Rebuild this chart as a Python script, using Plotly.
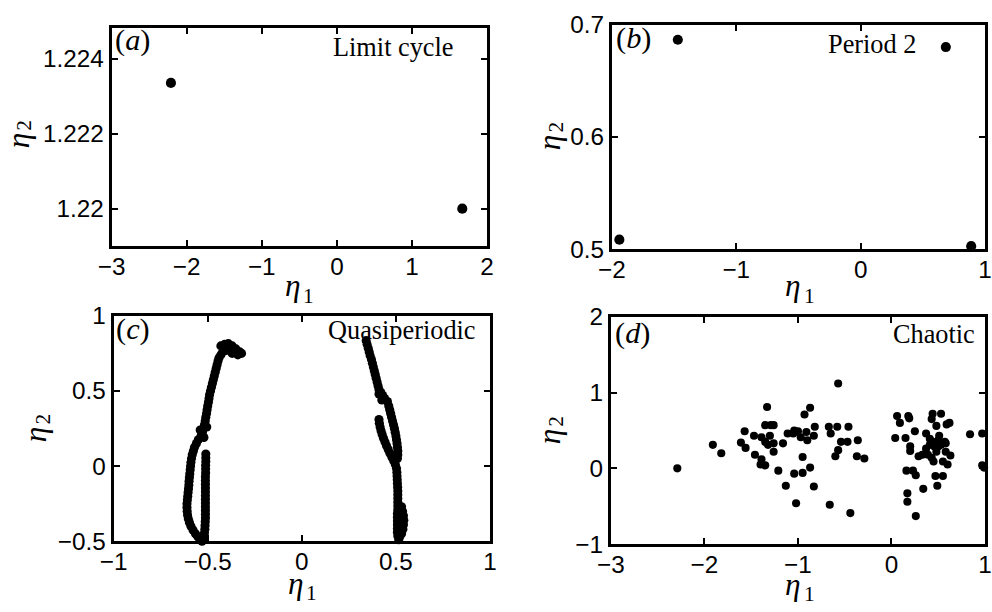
import plotly.graph_objects as go

# ---------------- data ----------------
# (a) Limit cycle
a_x = [-2.21, 1.67]
a_y = [1.22335, 1.2200]
# (b) Period 2
b_x = [-1.47, 0.685, -1.94, 0.889]
b_y = [0.6865, 0.680, 0.5084, 0.5026]
# (c) Quasiperiodic - left curve
c_left_x = [-0.43, -0.41, -0.39, -0.37, -0.35, -0.33, -0.32, -0.34, -0.37, -0.40, -0.42, -0.43, -0.40, -0.44, -0.36,
            -0.445, -0.45, -0.455, -0.46, -0.465, -0.47, -0.475, -0.48, -0.485, -0.49, -0.493, -0.496,
            -0.50, -0.503, -0.506, -0.51, -0.513, -0.517, -0.522, -0.528, -0.535, -0.505, -0.54, -0.52,
            -0.55, -0.56, -0.57, -0.576, -0.582, -0.586, -0.589, -0.591, -0.593, -0.595, -0.597, -0.599,
            -0.60, -0.602, -0.604, -0.606, -0.608, -0.61, -0.61, -0.609, -0.607, -0.603, -0.597, -0.589,
            -0.578, -0.565, -0.552, -0.54, -0.53,
            -0.51, -0.51, -0.51, -0.511, -0.511, -0.511, -0.512, -0.512, -0.512, -0.512, -0.512, -0.512,
            -0.512, -0.512, -0.512, -0.512, -0.512, -0.512, -0.513, -0.514, -0.515, -0.517, -0.52, -0.523]
c_left_y = [0.80, 0.81, 0.815, 0.80, 0.78, 0.76, 0.75, 0.74, 0.75, 0.77, 0.76, 0.74, 0.79, 0.72, 0.765,
            0.70, 0.675, 0.65, 0.625, 0.60, 0.575, 0.55, 0.525, 0.50, 0.475, 0.45, 0.425,
            0.40, 0.375, 0.35, 0.325, 0.30, 0.275, 0.25, 0.225, 0.20, 0.26, 0.24, 0.19,
            0.175, 0.15, 0.125, 0.10, 0.075, 0.05, 0.025, 0.0, -0.025, -0.05, -0.075, -0.10,
            -0.125, -0.15, -0.175, -0.20, -0.225, -0.25, -0.275, -0.30, -0.325, -0.35, -0.375, -0.40,
            -0.425, -0.45, -0.47, -0.49, -0.50,
            0.08, 0.055, 0.03, 0.005, -0.02, -0.045, -0.07, -0.095, -0.12, -0.145, -0.17, -0.195,
            -0.22, -0.245, -0.27, -0.295, -0.32, -0.345, -0.37, -0.395, -0.42, -0.445, -0.47, -0.49]
# (c) Quasiperiodic - right curve
c_right_x = [0.342, 0.347, 0.353, 0.358, 0.363, 0.37, 0.375, 0.38, 0.385, 0.39, 0.395, 0.40, 0.405, 0.41,
             0.42, 0.43, 0.44, 0.455, 0.41, 0.425,
             0.462, 0.467, 0.472, 0.477, 0.482, 0.487, 0.492, 0.496, 0.50, 0.503, 0.506, 0.508, 0.51, 0.51, 0.508,
             0.41, 0.412, 0.416, 0.421, 0.427, 0.434, 0.442, 0.45, 0.459, 0.468, 0.478, 0.488, 0.497,
             0.503, 0.505, 0.506, 0.507, 0.508, 0.509, 0.51, 0.51, 0.51, 0.51, 0.51, 0.53, 0.51, 0.535,
             0.508, 0.54, 0.508, 0.542, 0.508, 0.54, 0.508, 0.537, 0.508, 0.53, 0.508, 0.52, 0.51, 0.515,
             0.525, 0.525]
c_right_y = [0.835, 0.81, 0.785, 0.76, 0.735, 0.71, 0.685, 0.66, 0.635, 0.61, 0.585, 0.56, 0.535, 0.51,
             0.49, 0.47, 0.45, 0.43, 0.48, 0.44,
             0.40, 0.375, 0.35, 0.325, 0.30, 0.275, 0.25, 0.225, 0.20, 0.175, 0.15, 0.125, 0.10, 0.075, 0.05,
             0.31, 0.285, 0.26, 0.235, 0.21, 0.185, 0.16, 0.135, 0.11, 0.085, 0.06, 0.035, 0.01,
             -0.015, -0.04, -0.065, -0.09, -0.115, -0.14, -0.165, -0.19, -0.215, -0.24, -0.265, -0.27, -0.29, -0.30,
             -0.315, -0.33, -0.34, -0.36, -0.365, -0.39, -0.39, -0.42, -0.415, -0.45, -0.44, -0.47, -0.465, -0.49,
             -0.35, -0.41]
# (d) Chaotic
d_x = [-2.29, -1.91, -1.82, -1.61, -1.57, -1.56, -1.47, -1.46, -1.39, -1.40, -1.35,
       -1.35, -1.33, -1.39, -1.35, -1.30, -1.29, -1.26, -1.32, -1.26, -1.26, -1.21,
       -1.16, -1.13, -1.11, -1.04, -1.04, -1.02, -1.00, -0.97, -0.95, -0.95, -0.93,
       -0.87, -0.87, -0.83, -0.82, -0.83, -0.90, -0.91, -1.05, -0.67, -0.65, -0.58,
       -0.57, -0.66, -0.60, -0.57, -0.54, -0.47, -0.46, -0.44, -0.37, -0.36, -0.29,
       0.04, 0.06, 0.09, 0.18, 0.19, 0.15, 0.16, 0.17, 0.17, 0.20, 0.20, 0.23, 0.26,
       0.25, 0.26, 0.29, 0.33, 0.34, 0.37, 0.39, 0.41, 0.41, 0.43, 0.44, 0.46, 0.47,
       0.48, 0.48, 0.50, 0.51, 0.53, 0.55, 0.49, 0.53, 0.55, 0.57, 0.58, 0.60, 0.59,
       0.62, 0.63, 0.58, 0.44, 0.50, 0.37, 0.43, 0.45, 0.84, 0.97, 0.97, 0.99]
d_y = [0.00, 0.31, 0.20, 0.34, 0.49, 0.27, 0.43, 0.18, 0.12, 0.05, 0.04,
       0.57, 0.81, 0.41, 0.35, 0.43, 0.57, 0.57, 0.31, 0.33, 0.22, -0.03,
       0.33, -0.23, 0.46, 0.50, -0.07, -0.46, 0.49, 0.41, 0.15, -0.06, 0.71,
       0.80, 0.01, -0.24, 0.55, 0.43, 0.37, 0.48, 0.46, 0.55, 0.46, 0.55,
       1.12, -0.48, 0.16, 0.24, 0.35, 0.35, 0.55, -0.59, 0.16, 0.37, 0.13,
       0.40, 0.69, 0.60, 0.69, 0.66, 0.40, -0.03, -0.33, -0.44, 0.29, 0.23, -0.03, -0.09,
       0.49, -0.63, 0.16, 0.18, -0.27, 0.46, 0.18, 0.31, 0.39, 0.65, 0.72, 0.29, -0.10,
       0.56, 0.22, 0.37, 0.43, 0.31, 0.09, -0.23, 0.72, -0.10, 0.35, 0.22, 0.05, 0.58,
       0.60, 0.17, 0.33, 0.35, 0.29, 0.26, 0.14, 0.09, 0.45, 0.46, 0.04, 0.01]

# tick values / labels
a_xt = [-3, -2, -1, 0, 1, 2]
a_xl = ["−3", "−2", "−1", "0", "1", "2"]
a_yt = [1.220, 1.222, 1.224]
a_yl = ["1.22", "1.222", "1.224"]
b_xt = [-2, -1, 0, 1]
b_xl = ["−2", "−1", "0", "1"]
b_yt = [0.5, 0.6, 0.7]
b_yl = ["0.5", "0.6", "0.7"]
c_xt = [-1, -0.5, 0, 0.5, 1]
c_xl = ["−1", "−0.5", "0", "0.5", "1"]
c_yt = [-0.5, 0, 0.5, 1]
c_yl = ["−0.5", "0", "0.5", "1"]
d_xt = [-3, -2, -1, 0, 1]
d_xl = ["−3", "−2", "−1", "0", "1"]
d_yt = [-1, 0, 1, 2]
d_yl = ["−1", "0", "1", "2"]

panel_tags = ["(<i>a</i>)", "(<i>b</i>)", "(<i>c</i>)", "(<i>d</i>)"]
panel_names = ["Limit cycle", "Period 2", "Quasiperiodic", "Chaotic"]
x_label = ("η", "1")
y_label = ("η", "2")

# ---------------- figure ----------------
W, H = 992, 612
# screen pixel -> figure fraction (compensates the slight offset/scale seen in the rendered page)
SX, OX, SY, OY = 0.988, 7.5, 0.988, -1.0
def fx(px):
    return min(1.0, max(0.0, ((px - OX) / SX) / W))
def fy(py):
    return min(1.0, max(0.0, 1 - ((py - OY) / SY) / H))
def fs(s):
    return s / SY

fig = go.Figure()
fig.add_trace(go.Scatter(x=a_x, y=a_y, mode="markers", marker=dict(color="black", size=fs(10)),
                         xaxis="x", yaxis="y", cliponaxis=False))
fig.add_trace(go.Scatter(x=b_x, y=b_y, mode="markers", marker=dict(color="black", size=fs(10)),
                         xaxis="x2", yaxis="y2", cliponaxis=False))
fig.add_trace(go.Scatter(x=c_left_x, y=c_left_y, mode="markers", marker=dict(color="black", size=fs(9)),
                         xaxis="x3", yaxis="y3", cliponaxis=False))
fig.add_trace(go.Scatter(x=c_right_x, y=c_right_y, mode="markers", marker=dict(color="black", size=fs(9)),
                         xaxis="x3", yaxis="y3", cliponaxis=False))
fig.add_trace(go.Scatter(x=d_x, y=d_y, mode="markers", marker=dict(color="black", size=fs(8)),
                         xaxis="x4", yaxis="y4", cliponaxis=False))

tickfont = dict(family="Liberation Sans, Arial, sans-serif", size=fs(24), color="black")
def ax(domain, rng, tv, tl, anchor, standoff=0):
    return dict(domain=domain, range=rng, tickvals=tv, ticktext=tl, anchor=anchor,
                showline=True, linecolor="black", linewidth=3, mirror="ticks",
                ticks="inside", ticklen=6, tickwidth=2, tickcolor="black",
                ticklabelstandoff=standoff,
                showgrid=False, zeroline=False, tickfont=tickfont, fixedrange=True)

boxes = {
    "a": (106, 485, 15, 240),
    "b": (611, 989, 11, 243),
    "c": (108, 488, 312, 545),
    "d": (610, 989, 313, 548),
}
def dom(b):
    x0, x1, y0, y1 = b
    return [fx(x0), fx(x1)], [fy(y1), fy(y0)]

da = dom(boxes["a"]); db = dom(boxes["b"]); dc = dom(boxes["c"]); dd = dom(boxes["d"])
fig.update_layout(
    xaxis=ax(da[0], [-3, 2], a_xt, a_xl, "y", -3),
    yaxis=ax(da[1], [1.219, 1.2248], a_yt, a_yl, "x"),
    xaxis2=ax(db[0], [-2, 1], b_xt, b_xl, "y2", -3),
    yaxis2=ax(db[1], [0.5, 0.7], b_yt, b_yl, "x2"),
    xaxis3=ax(dc[0], [-1, 1], c_xt, c_xl, "y3", -3),
    yaxis3=ax(dc[1], [-0.5, 1], c_yt, c_yl, "x3"),
    xaxis4=ax(dd[0], [-3, 1], d_xt, d_xl, "y4", -3),
    yaxis4=ax(dd[1], [-1, 2], d_yt, d_yl, "x4"),
    width=W, height=H, margin=dict(l=0, r=0, t=0, b=0),
    paper_bgcolor="white", plot_bgcolor="white", showlegend=False,
)

serif = "Liberation Serif, Times New Roman, serif"
ann = []
def add(text, px, py, size, xanchor="center", italic=False, angle=0):
    ann.append(dict(text=("<i>%s</i>" % text) if italic else text, x=fx(px), y=fy(py),
                    xref="paper", yref="paper", xanchor=xanchor, yanchor="middle",
                    showarrow=False, textangle=angle,
                    font=dict(family=serif, size=fs(size), color="black")))

# panel tags (top-left) and names (top-right)
tag_pos = [(107, 27), (613, 25), (108, 326), (612, 330)]
name_pos = [(453, 35), (920, 32), (476, 327), (980, 331)]
for t, (px, py) in zip(panel_tags, tag_pos):
    add(t, px, py, 30, xanchor="left")
for t, (px, py) in zip(panel_names, name_pos):
    add(t, px, py, 26, xanchor="right")

# axis titles: eta symbol + subscript digit
x_title_pos = [(289, 281, 305, 291), (794, 281, 810, 291), (292, 589, 308, 599), (794, 590, 810, 600)]
for (ex, ey, sx, sy) in x_title_pos:
    add(x_label[0], ex, ey, 31, italic=True)
    add(x_label[1], sx, sy, 21)
y_title_pos = [(12, 130, 18, 115), (548, 132, 555, 117), (30, 434, 37, 419), (548, 436, 555, 421)]
for (ex, ey, sx, sy) in y_title_pos:
    add(y_label[0], ex, ey, 31, italic=True, angle=-90)
    add(y_label[1], sx, sy, 21, angle=-90)

fig.update_layout(annotations=ann)
fig.write_html("out.html")
